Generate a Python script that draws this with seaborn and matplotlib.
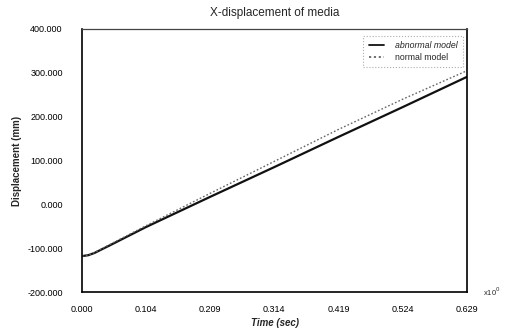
import matplotlib
matplotlib.use("Agg")
import matplotlib.pyplot as plt
import seaborn as sns
import pandas as pd

time = [0.000, 0.010, 0.020, 0.046, 0.104, 0.209, 0.314, 0.419, 0.524, 0.629]
abnormal = [-118, -116, -111, -93, -52, 17, 85, 154, 222, 291]
normal = [-118, -116, -110, -91, -49, 25, 98, 171, 240, 305]
xticks = [0.000, 0.104, 0.209, 0.314, 0.419, 0.524, 0.629]
yticks = [-200, -100, 0, 100, 200, 300, 400]

df = pd.DataFrame({
    "time": time * 2,
    "value": abnormal + normal,
    "model": ["abnormal model"] * len(time) + ["normal model"] * len(time),
})

sns.set_theme(style="white")
plt.rcParams['font.family'] = ['Liberation Sans', 'DejaVu Sans']

fig = plt.figure(figsize=(5.1, 3.33), dpi=100)
ax = fig.add_axes([0.161, 0.123, 0.755, 0.790])

sns.lineplot(data=df, x="time", y="value", hue="model", style="model",
             palette={"abnormal model": "#111111", "normal model": "#666666"},
             dashes={"abnormal model": "", "normal model": (1.2, 1.5)},
             linewidth=1.3, ax=ax, legend=True)
ax.lines[0].set_linewidth(1.6)
ax.lines[1].set_linewidth(1.0)

ax.set_xlim(0, 0.629)
ax.set_ylim(-200, 400)
ax.set_xticks(xticks)
ax.set_xticklabels([f"{v:.3f}" for v in xticks], fontsize=6.5)
ax.set_yticks(yticks)
ax.set_yticklabels([f"{v:.3f}" for v in yticks], fontsize=6.5)
ax.tick_params(direction="in", length=4, width=1.0, colors="black")
ax.tick_params(axis="y", pad=14)
ax.tick_params(axis="x", pad=9)

for side in ["left", "bottom", "right"]:
    ax.spines[side].set_color("black")
    ax.spines[side].set_linewidth(1.2)
ax.spines["top"].set_color("#444444")
ax.spines["top"].set_linewidth(0.9)

ax.set_title("X-displacement of media", fontsize=8.5, pad=9)
ax.set_xlabel("Time (sec)", fontsize=7, fontweight="bold", fontstyle="italic", labelpad=3)
ax.set_ylabel("Displacement (mm)", fontsize=7, fontweight="bold", labelpad=4)

ax.text(1.04, 0.0, "x10$^{0}$", transform=ax.transAxes, fontsize=5.5, va="center", ha="left")

handles, labels = ax.get_legend_handles_labels()
leg = ax.legend(handles, labels, loc="upper right", fontsize=6.3, frameon=True,
                handlelength=1.8, borderpad=0.6, labelspacing=0.3, handletextpad=1.2,
                bbox_to_anchor=(1.0, 0.99))
for t, st in zip(leg.get_texts(), ["italic", "normal"]):
    t.set_fontstyle(st)
leg.get_frame().set_edgecolor("#999999")
leg.get_frame().set_linestyle(":")
leg.get_frame().set_linewidth(0.8)
leg.get_frame().set_boxstyle("square", pad=0)

fig.savefig("out.png", dpi=100)
